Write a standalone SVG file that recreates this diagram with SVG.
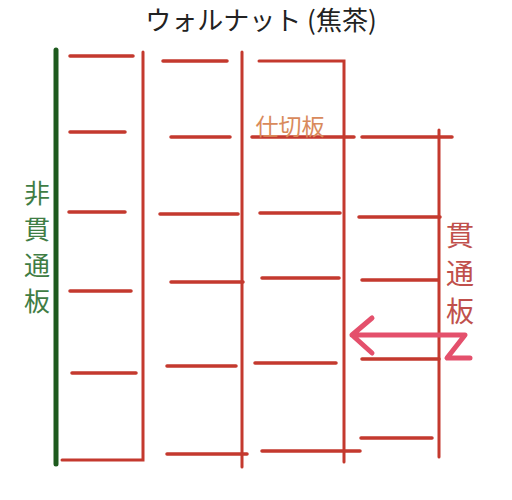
<svg xmlns="http://www.w3.org/2000/svg" width="512" height="500" viewBox="0 0 512 500">
<style>
.r{stroke:#c4392e;stroke-width:3.5;stroke-linecap:round;fill:none}
.v{stroke:#c4392e;stroke-width:3;stroke-linecap:round;fill:none}
.t{font-family:"Noto Sans CJK JP","Noto Sans",sans-serif}
</style>
<rect width="512" height="500" fill="#fff"/>
<text class="t" x="261" y="30" font-size="26" text-anchor="middle" fill="#222">ウォルナット (焦茶)</text>
<g id="non-through-board">
<line x1="56" y1="50" x2="56" y2="464" stroke="#1e5a1e" stroke-width="5" stroke-linecap="round"/>
<g class="t" font-size="26" fill="#3f7d44" text-anchor="middle">
<text x="37" y="203">非</text><text x="37" y="239">貫</text><text x="37" y="275">通</text><text x="37" y="311">板</text>
</g>
</g>
<g id="col1">
<path class="v" d="M143,52 V460 H62"/>
<path class="r" d="M70,56H133M70,132H125M69,212H125M70,291H131M72,373H136"/>
</g>
<g id="col2">
<path class="v" d="M242,52 V467"/>
<path class="r" d="M163,61H227M171,137H230M160,214H238M171,282H243M167,366H236M167,454H247"/>
</g>
<g id="col3">
<path class="v" d="M259,61 H344 V462"/>
<path class="r" d="M252,137H354M260,213H340M262,278H339M255,363H336M262,451H360"/>
<text class="t" x="290" y="135" font-size="23" text-anchor="middle" fill="#d98a5c">仕切板</text>
</g>
<g id="col4">
<path class="v" d="M439,130 V457"/>
<path class="r" d="M362,137H452M359,217H440M362,280H438M362,359H439M361,438H432"/>
<g class="t" font-size="28" fill="#c0504c" text-anchor="middle">
<text x="460" y="246">貫</text><text x="460" y="284">通</text><text x="460" y="322">板</text>
</g>
</g>
<g id="connectors">
<path d="M372,318 L352,335 L372,353 M352,335 H465 L447,358 H470" fill="none" stroke="#e4506c" stroke-width="5" stroke-linecap="round" stroke-linejoin="round"/>
</g>
</svg>
